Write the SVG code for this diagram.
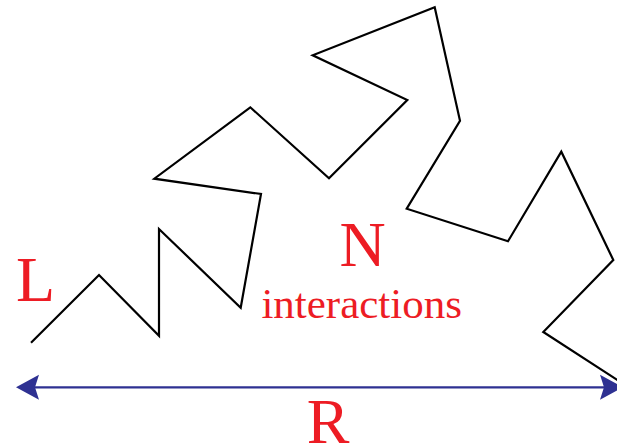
<svg xmlns="http://www.w3.org/2000/svg" width="617" height="448" viewBox="0 0 617 448">
  <style>
    .chain { fill: none; stroke: #000; stroke-width: 2.2; stroke-linejoin: miter; stroke-miterlimit: 10; }
    .lbl { fill: #ed1c24; font-family: "Liberation Serif", "Times New Roman", serif; }
    .big { font-size: 64px; }
    .small { font-size: 43px; }
    .arrow { stroke: #2e3192; stroke-width: 2.2; fill: none; }
  </style>
  <defs>
    <marker id="head" viewBox="-24 -13 25 26" refX="-19" refY="0" markerWidth="25" markerHeight="26" markerUnits="userSpaceOnUse" orient="auto-start-reverse">
      <path d="M0,0 L-23,-12.5 L-19,0 L-23,12.5 Z" fill="#2e3192"/>
    </marker>
  </defs>
  <g id="chain">
    <polyline class="chain" points="31,342.7 99,275 159,335.7 159,229 240.7,307.7 261,194 154.3,178.7 250.3,107.3 329,178.3 407.3,100 312.7,55.3 434.7,7.3 460,120.7 406.7,208.7 508,241.3 561.3,151.7 613.3,260 543.3,332 622,383"/>
  </g>
  <g id="connectors">
    <line class="arrow" x1="35" y1="387.3" x2="604" y2="387.3" marker-start="url(#head)" marker-end="url(#head)"/>
  </g>
  <g id="label-L">
    <text class="lbl big" x="16" y="301">L</text>
  </g>
  <g id="label-N">
    <text class="lbl big" x="362.7" y="266" text-anchor="middle">N</text>
    <text class="lbl small" x="361.7" y="318" text-anchor="middle">interactions</text>
  </g>
  <g id="label-R">
    <text class="lbl big" x="328" y="443" text-anchor="middle">R</text>
  </g>
</svg>
